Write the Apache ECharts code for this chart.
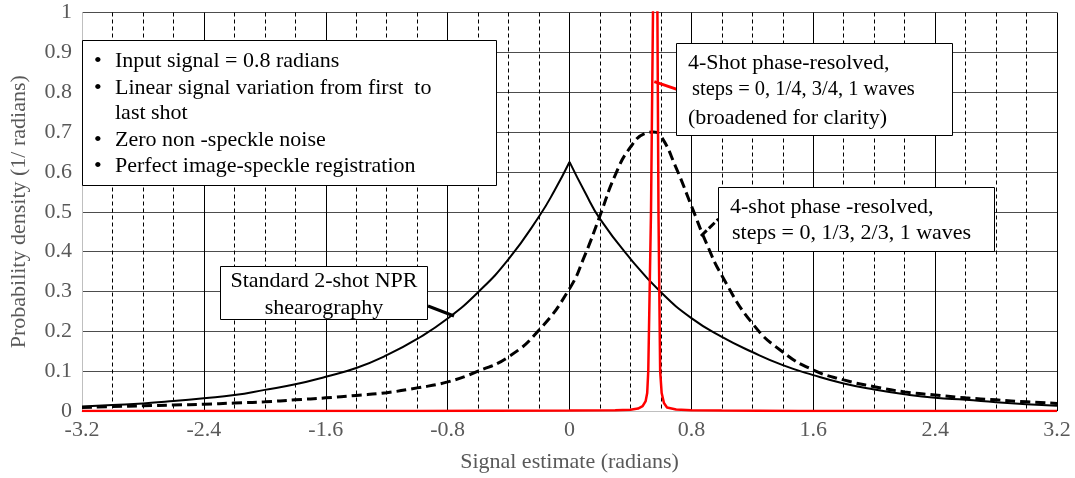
<!DOCTYPE html>
<html><head><meta charset="utf-8">
<script src="https://cdn.jsdelivr.net/npm/echarts@6/dist/echarts.min.js"></script>
<style>html,body{margin:0;padding:0;background:#fff}#c{width:1075px;height:478px}</style>
</head><body><div id="c"></div>
<script>
// ---- tick labels ----
const xTickLabels = ['-3.2','-2.4','-1.6','-0.8','0','0.8','1.6','2.4','3.2'];
const yTickLabels = ['0','0.1','0.2','0.3','0.4','0.5','0.6','0.7','0.8','0.9','1'];

// ---- Standard 2-shot NPR shearography (solid black) ----
const xStd = [-3.2,-3.0,-2.8,-2.6,-2.4,-2.2,-2.0,-1.8,-1.6,-1.4,-1.2,-1.0,-0.8,-0.6,-0.4,-0.2,-0.1,0,0.1,0.2,0.4,0.6,0.8,1.0,1.2,1.4,1.6,1.8,2.0,2.2,2.4,2.6,2.8,3.0,3.2];
const yStd = [0.011,0.015,0.019,0.025,0.032,0.040,0.053,0.067,0.086,0.108,0.140,0.181,0.232,0.298,0.381,0.488,0.552,0.625,0.550,0.482,0.382,0.298,0.233,0.186,0.148,0.115,0.090,0.069,0.054,0.042,0.033,0.028,0.022,0.017,0.013];

// ---- 4-shot phase-resolved, steps 0,1/3,2/3,1 (dashed black) ----
const xPR3 = [-3.2,-3.0,-2.8,-2.6,-2.4,-2.2,-2.0,-1.8,-1.6,-1.4,-1.2,-1.0,-0.8,-0.6,-0.4,-0.2,0,0.1,0.2,0.3,0.4,0.5,0.55,0.6,0.7,0.8,0.9,1.0,1.2,1.4,1.6,1.8,2.0,2.2,2.4,2.6,2.8,3.0,3.2];
const yPR3 = [0.009,0.011,0.013,0.015,0.017,0.020,0.023,0.028,0.033,0.039,0.046,0.058,0.073,0.100,0.136,0.203,0.307,0.390,0.490,0.592,0.662,0.697,0.700,0.690,0.610,0.515,0.420,0.340,0.220,0.148,0.103,0.078,0.061,0.048,0.040,0.033,0.028,0.023,0.019];

// ---- 4-shot phase-resolved, steps 0,1/4,3/4,1 (red spike, goes off scale) ----
const xPR4 = [-3.2,-2.0,-1.0,0,0.3,0.4,0.45,0.48,0.5,0.51,0.517,0.535,0.548,0.5625,0.577,0.584,0.595,0.605,0.62,0.64,0.7,0.8,1.0,1.5,2.4,3.2];
const yPR4 = [0,0,0,0.001,0.002,0.003,0.006,0.012,0.025,0.045,0.1,0.5,1.0,1.5,1.0,0.5,0.1,0.045,0.02,0.009,0.004,0.002,0.001,0,0,0];

const zip = (xs, ys) => xs.map((x, i) => [x, ys[i]]);
const stdPts = zip(xStd, yStd);
const stdLeft = stdPts.filter(p => p[0] <= 0);
const stdRight = stdPts.filter(p => p[0] >= 0);

const FONT = "'Liberation Serif','Times New Roman',serif";
const FS = 22;

const chart = echarts.init(document.getElementById('c'), null, {renderer: 'canvas'});

function txt(x, y, s, align, fs) {
  return {type: 'text', x: x, y: y, z: 101,
    style: {text: s, fontFamily: FONT, fontSize: fs || FS, fill: '#000', align: align || 'left', verticalAlign: 'middle'}};
}
function box(x, y, w, h) {
  return {type: 'rect', z: 100, shape: {x: x, y: y, width: w, height: h},
    style: {fill: '#fff', stroke: '#000', lineWidth: 1}};
}
function ptr(x1, y1, x2, y2, color, dash) {
  return {type: 'line', z: 99, shape: {x1: x1, y1: y1, x2: x2, y2: y2},
    style: {stroke: color, lineWidth: 3, lineDash: dash || null}};
}

const graphics = [
  // info box
  box(82.5, 40.5, 414, 145),
  txt(94, 61.7, '•'), txt(115, 61.7, 'Input signal = 0.8 radians'),
  txt(94, 88.3, '•'), txt(115, 88.3, 'Linear signal variation from first  to'),
  txt(115, 113.3, 'last shot'),
  txt(94, 140, '•'), txt(115, 140, 'Zero non -speckle noise'),
  txt(94, 166.7, '•'), txt(115, 166.7, 'Perfect image-speckle registration'),
  // red pointer + box
  ptr(654.3, 81.7, 677, 89.3, '#ff0000'),
  box(676.5, 43.5, 276, 92),
  txt(688, 63.3, '4-Shot phase-resolved,'),
  txt(692, 90, 'steps = 0, 1/4, 3/4, 1 waves', 'left', 20.5),
  txt(688, 118.3, '(broadened for clarity)'),
  // dashed pointer + box
  ptr(701, 236, 718.5, 219, '#000', [8, 3]),
  box(718.5, 187.5, 276, 64),
  txt(730, 207, '4-shot phase -resolved,'),
  txt(732, 233.3, 'steps = 0, 1/3, 2/3, 1 waves'),
  // solid pointer + box
  ptr(428, 306, 454, 316, '#000'),
  box(220.5, 266.5, 207, 53),
  txt(324, 281.7, 'Standard 2-shot NPR', 'center'),
  txt(324, 308.3, 'shearography', 'center')
];

chart.setOption({
  animation: false,
  backgroundColor: '#fff',
  grid: {left: 82, right: 18, top: 12.5, bottom: 65.3, containLabel: false},
  xAxis: {
    type: 'value', min: -3.2, max: 3.2, interval: 0.8,
    name: 'Signal estimate (radians)', nameLocation: 'middle', nameGap: 40,
    nameTextStyle: {fontFamily: FONT, fontSize: FS, color: '#595959'},
    axisLine: {show: true, onZero: false, lineStyle: {color: '#bfbfbf', width: 1}},
    axisTick: {show: false},
    axisLabel: {fontFamily: FONT, fontSize: FS, color: '#595959', margin: 8,
      formatter: v => xTickLabels[Math.round((v + 3.2) / 0.8)]},
    splitLine: {show: true, showMinLine: false, lineStyle: {color: '#000', width: 1}},
    minorTick: {show: false, splitNumber: 4},
    minorSplitLine: {show: true, lineStyle: {color: '#000', width: 1, type: [4, 3]}}
  },
  yAxis: {
    type: 'value', min: 0, max: 1, interval: 0.1,
    name: 'Probability density (1/ radians)', nameLocation: 'middle', nameGap: 52,
    nameTextStyle: {fontFamily: FONT, fontSize: FS, color: '#595959'},
    axisLine: {show: true, onZero: false, lineStyle: {color: '#bfbfbf', width: 1}},
    axisTick: {show: false},
    axisLabel: {fontFamily: FONT, fontSize: FS, color: '#595959', margin: 10,
      formatter: v => yTickLabels[Math.round(v * 10)]},
    splitLine: {show: true, showMinLine: false, lineStyle: {color: '#4d4d4d', width: 1}}
  },
  series: [
    {type: 'line', name: 'Standard 2-shot NPR shearography (left)', data: stdLeft, showSymbol: false, smooth: 0.5,
      lineStyle: {color: '#000', width: 2}, z: 3},
    {type: 'line', name: 'Standard 2-shot NPR shearography (right)', data: stdRight, showSymbol: false, smooth: 0.5,
      lineStyle: {color: '#000', width: 2}, z: 3},
    {type: 'line', name: '4-shot phase-resolved 1/3', data: zip(xPR3, yPR3), showSymbol: false, smooth: 0.5,
      lineStyle: {color: '#000', width: 3, type: [10, 5]}, z: 4},
    {type: 'line', name: '4-shot phase-resolved 1/4', data: zip(xPR4, yPR4), showSymbol: false, clip: true,
      lineStyle: {color: '#ff0000', width: 2.5}, z: 5}
  ],
  graphic: graphics
});
</script>
</body></html>
